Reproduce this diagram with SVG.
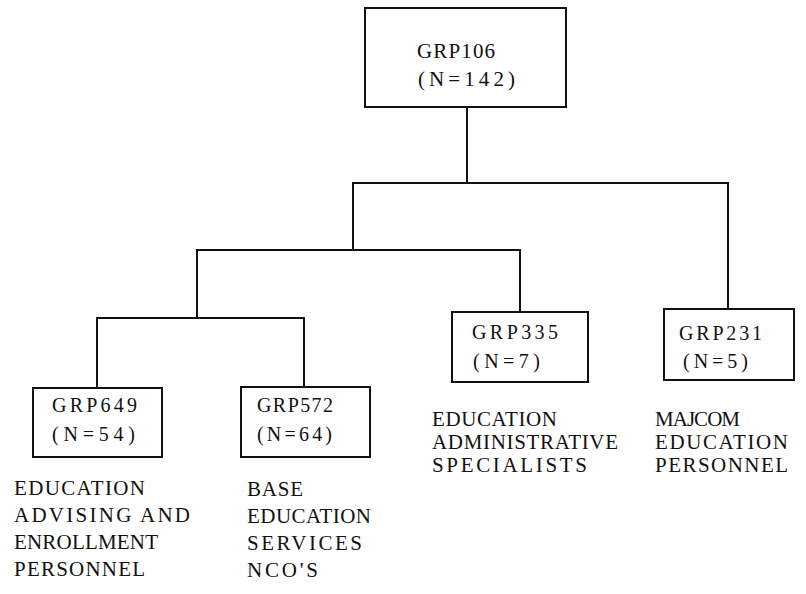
<svg xmlns="http://www.w3.org/2000/svg" width="806" height="594" viewBox="0 0 806 594">
<style>
  .box { fill: #ffffff; stroke: #111111; stroke-width: 2; }
  .conn { fill: none; stroke: #111111; stroke-width: 2; stroke-linecap: square; }
  .t { font-family: "Liberation Serif", "Times New Roman", serif; fill: #111111; }
  .bt { font-size: 20px; }
  .top { font-size: 21px; }
  .d { font-size: 21px; }
</style>
<rect width="806" height="594" fill="#ffffff"/>
<g id="connectors">
  <path class="conn" d="M467 107 V183"/>
  <path class="conn" d="M353 183 H728 V309"/>
  <path class="conn" d="M353 183 V250"/>
  <path class="conn" d="M197 250 H520 V312"/>
  <path class="conn" d="M197 250 V318"/>
  <path class="conn" d="M97 318 H304"/>
  <path class="conn" d="M97 318 V388"/>
  <path class="conn" d="M304 318 V387"/>
</g>
<g id="grp106">
  <rect class="box" x="365" y="8" width="201" height="99"/>
  <text class="t top" x="417" y="58" textLength="78" lengthAdjust="spacing">GRP106</text>
  <text class="t top" x="418" y="86" textLength="97" lengthAdjust="spacing">(N=142)</text>
</g>
<g id="grp649">
  <rect class="box" x="33" y="388" width="129" height="69"/>
  <text class="t bt" x="52" y="412" textLength="85" lengthAdjust="spacing">GRP649</text>
  <text class="t bt" x="52" y="441" textLength="83" lengthAdjust="spacing">(N=54)</text>
  <text class="t d" x="14" y="495" textLength="131" lengthAdjust="spacing">EDUCATION</text>
  <text class="t d" x="14" y="522" textLength="176" lengthAdjust="spacing">ADVISING AND</text>
  <text class="t d" x="14" y="549" textLength="144" lengthAdjust="spacing">ENROLLMENT</text>
  <text class="t d" x="14" y="576" textLength="131" lengthAdjust="spacing">PERSONNEL</text>
</g>
<g id="grp572">
  <rect class="box" x="241" y="387" width="129" height="70"/>
  <text class="t bt" x="257" y="412" textLength="76" lengthAdjust="spacing">GRP572</text>
  <text class="t bt" x="257" y="441" textLength="75" lengthAdjust="spacing">(N=64)</text>
  <text class="t d" x="247" y="496" textLength="56" lengthAdjust="spacing">BASE</text>
  <text class="t d" x="247" y="523" textLength="124" lengthAdjust="spacing">EDUCATION</text>
  <text class="t d" x="247" y="550" textLength="115" lengthAdjust="spacing">SERVICES</text>
  <text class="t d" x="247" y="577" textLength="71" lengthAdjust="spacing">NCO'S</text>
</g>
<g id="grp335">
  <rect class="box" x="452" y="312" width="136" height="70"/>
  <text class="t bt" x="472" y="339" textLength="86" lengthAdjust="spacing">GRP335</text>
  <text class="t bt" x="473" y="368" textLength="67" lengthAdjust="spacing">(N=7)</text>
  <text class="t d" x="432" y="426" textLength="125" lengthAdjust="spacing">EDUCATION</text>
  <text class="t d" x="432" y="449" textLength="186" lengthAdjust="spacing">ADMINISTRATIVE</text>
  <text class="t d" x="432" y="472" textLength="155" lengthAdjust="spacing">SPECIALISTS</text>
</g>
<g id="grp231">
  <rect class="box" x="664" y="309" width="130" height="71"/>
  <text class="t bt" x="679" y="340" textLength="83" lengthAdjust="spacing">GRP231</text>
  <text class="t bt" x="683" y="368" textLength="65" lengthAdjust="spacing">(N=5)</text>
  <text class="t d" x="655" y="426" textLength="85" lengthAdjust="spacing">MAJCOM</text>
  <text class="t d" x="655" y="449" textLength="133" lengthAdjust="spacing">EDUCATION</text>
  <text class="t d" x="655" y="472" textLength="133" lengthAdjust="spacing">PERSONNEL</text>
</g>
</svg>
